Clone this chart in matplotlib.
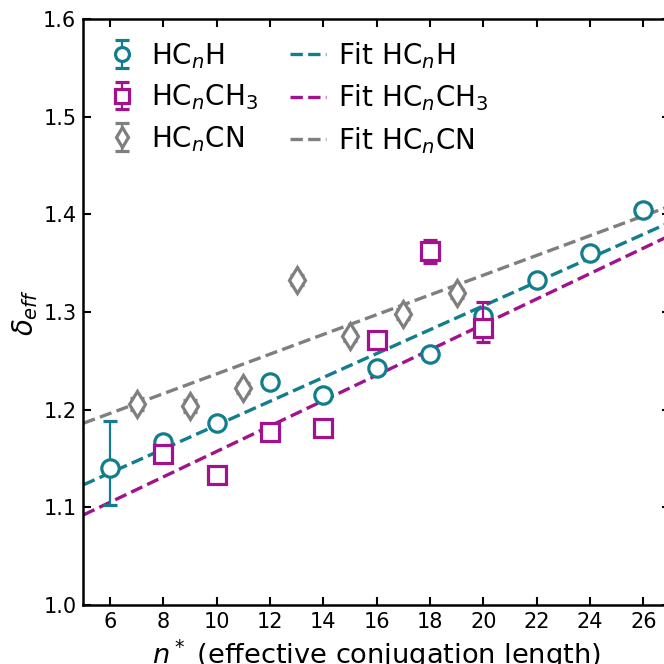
import numpy as np
import matplotlib
matplotlib.use("Agg")
import matplotlib.pyplot as plt

# ---- data -------------------------------------------------------------
n_h = [6, 8, 10, 12, 14, 16, 18, 20, 22, 24, 26]
d_h = [1.140, 1.167, 1.186, 1.228, 1.215, 1.243, 1.257, 1.296, 1.333, 1.360, 1.404]
e_h_lo = [0.038, 0.003, 0.003, 0.003, 0.003, 0.003, 0.003, 0.004, 0.003, 0.003, 0.003]
e_h_hi = [0.048, 0.003, 0.003, 0.003, 0.003, 0.003, 0.003, 0.004, 0.003, 0.003, 0.003]

n_ch3 = [8, 10, 12, 14, 16, 18, 20]
d_ch3 = [1.155, 1.133, 1.177, 1.181, 1.271, 1.362, 1.284]
e_ch3_lo = [0.004, 0.003, 0.003, 0.003, 0.003, 0.012, 0.015]
e_ch3_hi = [0.004, 0.003, 0.003, 0.003, 0.003, 0.012, 0.026]

n_cn = [7, 9, 11, 13, 15, 17, 19]
d_cn = [1.206, 1.204, 1.222, 1.333, 1.275, 1.298, 1.319]
e_cn = [0.006, 0.006, 0.005, 0.005, 0.005, 0.005, 0.005]

# linear fits: delta = a + b * n
fit_h = (1.0619, 0.01222)
fit_ch3 = (1.0271, 0.01301)
fit_cn = (1.1355, 0.01011)

labels = ["HC$_n$H", "HC$_n$CH$_3$", "HC$_n$CN"]
fit_labels = ["Fit HC$_n$H", "Fit HC$_n$CH$_3$", "Fit HC$_n$CN"]
x_ticks = [6, 8, 10, 12, 14, 16, 18, 20, 22, 24, 26]
y_ticks = [1.0, 1.1, 1.2, 1.3, 1.4, 1.5, 1.6]

c_h = "#127e8d"
c_ch3 = "#a1128e"
c_cn = "#7f7f7f"

# ---- figure -----------------------------------------------------------
fig = plt.figure(figsize=(6.64, 6.64), dpi=100)
ax = fig.add_axes([0.1255, 0.0889, 0.8836, 0.8825])

xlim = (5, 27)
xx = np.linspace(xlim[0], xlim[1], 200)

eb_kw = dict(linestyle="none", capsize=5, capthick=2.0, elinewidth=1.6,
             markeredgewidth=2.3, markerfacecolor="white")

h1 = ax.errorbar(n_h, d_h, yerr=[e_h_lo, e_h_hi], marker="o", markersize=12.5,
                 color=c_h, markeredgecolor=c_h, zorder=3, **eb_kw)
h2 = ax.errorbar(n_ch3, d_ch3, yerr=[e_ch3_lo, e_ch3_hi], marker="s", markersize=12.5,
                 color=c_ch3, markeredgecolor=c_ch3, zorder=4, **eb_kw)
h3 = ax.errorbar(n_cn, d_cn, yerr=e_cn, marker="d", markersize=13,
                 color=c_cn, markeredgecolor=c_cn, zorder=5, **eb_kw)

f1, = ax.plot(xx, fit_h[0] + fit_h[1] * xx, "--", color=c_h, lw=2.4, zorder=2)
f2, = ax.plot(xx, fit_ch3[0] + fit_ch3[1] * xx, "--", color=c_ch3, lw=2.4, zorder=2)
f3, = ax.plot(xx, fit_cn[0] + fit_cn[1] * xx, "--", color=c_cn, lw=2.4, zorder=2)

ax.set_xlim(*xlim)
ax.set_ylim(1.0, 1.6)
ax.set_xticks(x_ticks)
ax.set_yticks(y_ticks)
ax.set_yticklabels([f"{v:.1f}" for v in y_ticks])
ax.tick_params(direction="in", top=True, right=True, length=6, width=1.5,
               labelsize=15, pad=5)
for sp in ax.spines.values():
    sp.set_linewidth(1.8)

ax.set_xlabel("$n^*$ (effective conjugation length)", fontsize=19.6, labelpad=4)
ax.set_ylabel(r"$\delta_{eff}$", fontsize=20, labelpad=2)

ax.legend([h1, h2, h3, f1, f2, f3], labels + fit_labels, loc="upper left",
          ncol=2, frameon=False, fontsize=20, handlelength=1.3,
          handletextpad=0.4, columnspacing=1.15, labelspacing=0.42,
          borderpad=0.3, borderaxespad=0.45, markerscale=0.8)

fig.savefig("out.png", dpi=100)
